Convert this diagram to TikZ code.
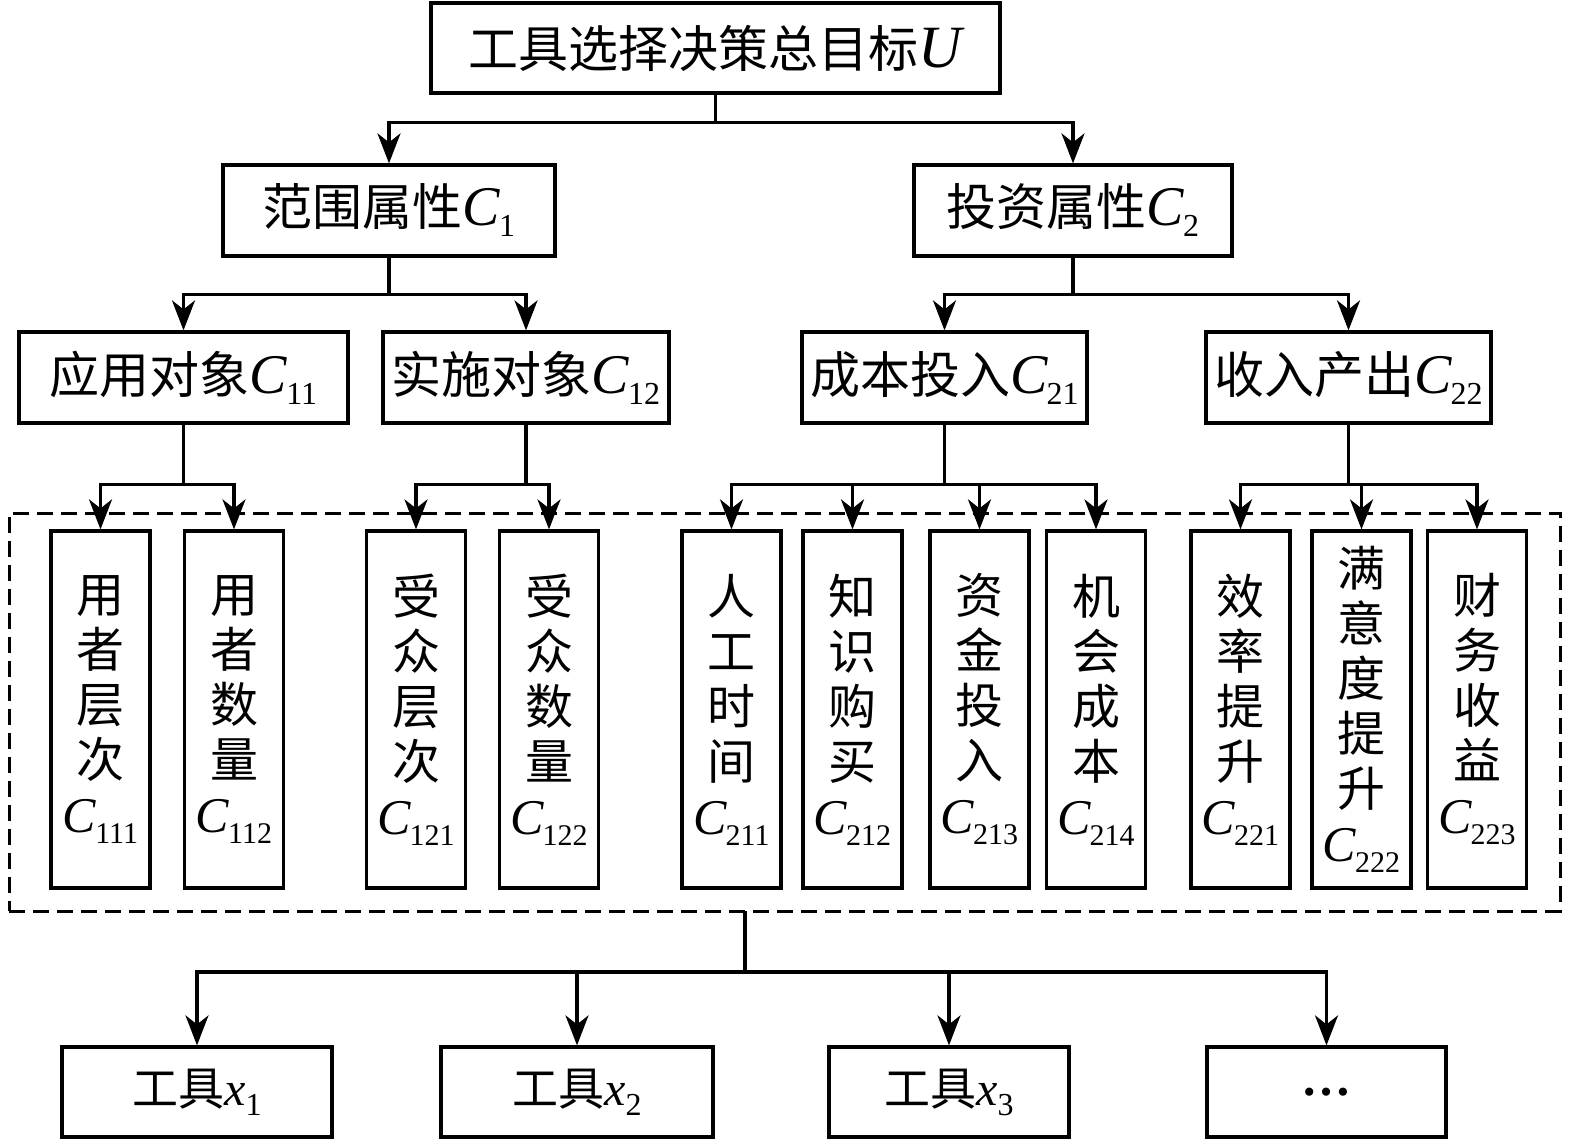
\documentclass[tikz,border=0pt]{standalone}
\usepackage{fontspec}
\setmainfont{Liberation Serif}
\newfontfamily\cjk{Noto Sans CJK SC}
\usetikzlibrary{arrows.meta}
\newcommand{\Cb}[2]{{\rmfamily\itshape\fontsize{56}{56}\selectfont #1}\kern-1pt\raisebox{-11pt}{\rmfamily\fontsize{32}{32}\selectfont #2}}
\newcommand{\Cl}[1]{{\rmfamily\itshape\fontsize{50}{50}\selectfont C}\kern-1pt\raisebox{-11pt}{\rmfamily\fontsize{30}{30}\selectfont #1}}
\newcommand{\Xs}[1]{{\rmfamily\itshape\fontsize{48}{48}\selectfont x}\raisebox{-10pt}{\rmfamily\fontsize{32}{32}\selectfont #1}}
\tikzset{
  box/.style={draw, line width=3.2pt, inner sep=0pt, font=\cjk\fontsize{50}{55}\selectfont},
  leafbox/.style={box, minimum width=99pt, minimum height=357pt, align=center, font=\cjk\fontsize{48}{55}\selectfont},
  topbox/.style={box, minimum height=91pt},
  botbox/.style={box, minimum height=90pt, font=\cjk\fontsize{46}{50}\selectfont},
  arr/.style={line width=3.2pt, -{Stealth[length=30pt,width=23pt,inset=9pt]}},
  grpbox/.style={draw, line width=3pt, dash pattern=on 16pt off 8pt, inner sep=0pt}
}
\begin{document}
\begin{tikzpicture}[x=1pt,y=-1pt]
\useasboundingbox (0,0) rectangle (1575,1142);
% dashed group
\node[grpbox, minimum width=1551pt, minimum height=398pt] (grp) at (784.5,712) {};
% top
\node[topbox, minimum width=569pt, minimum height=90pt] (top) at (715.5,48) {工具选择决策总目标{\rmfamily\itshape\fontsize{60}{60}\selectfont U}};
% level 2
\node[topbox, minimum width=332pt] (C1) at (389,210.5) {范围属性\Cb{C}{1}};
\node[topbox, minimum width=318pt] (C2) at (1073,210.5) {投资属性\Cb{C}{2}};
% level 3
\node[topbox, minimum width=329pt] (C11) at (183.5,377.5) {应用对象\Cb{C}{11}};
\node[topbox, minimum width=286pt] (C12) at (526,377.5) {实施对象\Cb{C}{12}};
\node[topbox, minimum width=285pt] (C21) at (944.5,377.5) {成本投入\Cb{C}{21}};
\node[topbox, minimum width=285pt] (C22) at (1348.5,377.5) {收入产出\Cb{C}{22}};
% leaves
\node[leafbox] (L111) at (100.5,709.5) {用\\者\\层\\次\\\Cl{111}};
\node[leafbox] (L112) at (234,709.5) {用\\者\\数\\量\\\Cl{112}};
\node[leafbox] (L121) at (416,709.5) {受\\众\\层\\次\\\Cl{121}};
\node[leafbox] (L122) at (549,709.5) {受\\众\\数\\量\\\Cl{122}};
\node[leafbox] (L211) at (731.5,709.5) {人\\工\\时\\间\\\Cl{211}};
\node[leafbox] (L212) at (852.5,709.5) {知\\识\\购\\买\\\Cl{212}};
\node[leafbox] (L213) at (979.5,709.5) {资\\金\\投\\入\\\Cl{213}};
\node[leafbox] (L214) at (1096,709.5) {机\\会\\成\\本\\\Cl{214}};
\node[leafbox] (L221) at (1240.5,709.5) {效\\率\\提\\升\\\Cl{221}};
\node[leafbox] (L222) at (1361.5,709.5) {满\\意\\度\\提\\升\\\Cl{222}};
\node[leafbox] (L223) at (1477,709.5) {财\\务\\收\\益\\\Cl{223}};
% bottom
\node[botbox, minimum width=270pt] (X1) at (197,1092) {工具\Xs{1}};
\node[botbox, minimum width=272pt] (X2) at (577,1092) {工具\Xs{2}};
\node[botbox, minimum width=240pt] (X3) at (949,1092) {工具\Xs{3}};
\node[botbox, minimum width=239pt] (X4) at (1326.5,1092) {{\rmfamily\bfseries\fontsize{50}{50}\selectfont …}};
% connectors
\draw[arr] (top.south) -- ++(0,28) -| (C1.north);
\draw[arr] (top.south) -- ++(0,28) -| (C2.north);
\draw[arr] (C1.south) -- ++(0,37) -| (C11.north);
\draw[arr] (C1.south) -- ++(0,37) -| (C12.north);
\draw[arr] (C2.south) -- ++(0,37) -| (C21.north);
\draw[arr] (C2.south) -- ++(0,37) -| (C22.north);
\draw[arr] (C11.south) -- ++(0,60) -| (L111.north);
\draw[arr] (C11.south) -- ++(0,60) -| (L112.north);
\draw[arr] (C12.south) -- ++(0,60) -| (L121.north);
\draw[arr] (C12.south) -- ++(0,60) -| (L122.north);
\draw[arr] (C21.south) -- ++(0,60) -| (L211.north);
\draw[arr] (C21.south) -- ++(0,60) -| (L212.north);
\draw[arr] (C21.south) -- ++(0,60) -| (L213.north);
\draw[arr] (C21.south) -- ++(0,60) -| (L214.north);
\draw[arr] (C22.south) -- ++(0,60) -| (L221.north);
\draw[arr] (C22.south) -- ++(0,60) -| (L222.north);
\draw[arr] (C22.south) -- ++(0,60) -| (L223.north);
\coordinate (gout) at (745,911);
\coordinate (jb) at (745,972);
\draw[arr] (gout) -- (jb) -| (X1.north);
\draw[arr] (gout) -- (jb) -| (X2.north);
\draw[arr] (gout) -- (jb) -| (X3.north);
\draw[arr] (gout) -- (jb) -| (X4.north);
\end{tikzpicture}
\end{document}
